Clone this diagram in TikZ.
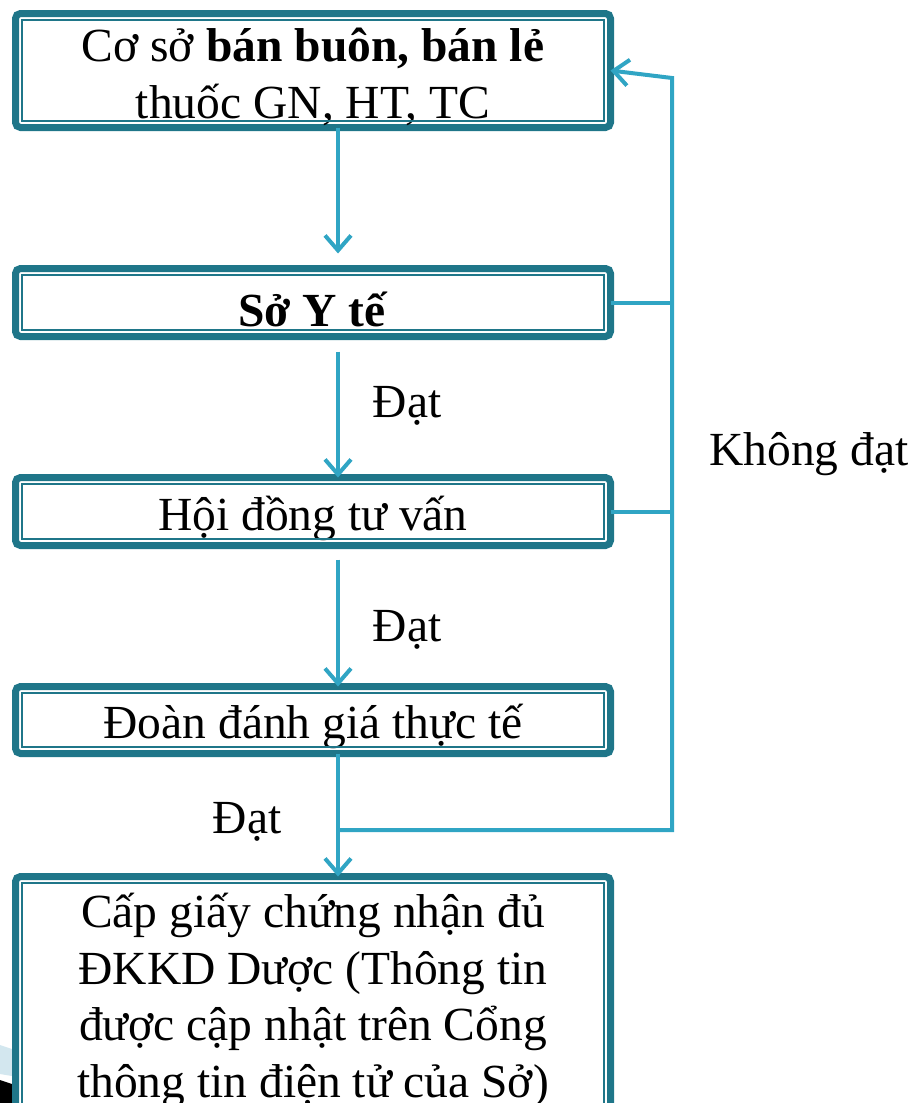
\documentclass[tikz,border=0pt]{standalone}
\usepackage{fontspec}
\setmainfont{Liberation Serif}
\usetikzlibrary{arrows.meta,calc}
\definecolor{boxc}{HTML}{1F7689}
\definecolor{linec}{HTML}{30A5C4}
\definecolor{decob}{HTML}{D3E7EF}
\begin{document}
\begin{tikzpicture}[x=1pt,y=-1pt,
  box/.style={draw=boxc, line width=7pt, rounded corners=5pt, outer sep=0pt, inner sep=0pt,
    minimum width=595pt},
  boxtext/.style={font=\fontsize{47.5}{56.5}\selectfont, align=center, inner sep=0pt, yshift=-6.5pt},
  innerline/.style={draw=boxc, line width=2pt},
  conn/.style={draw=linec, line width=4pt},
  arr/.style={conn, -{Straight Barb[length=15pt,width=26pt]}},
  lbl/.style={font=\fontsize{47.5}{56.5}\selectfont, inner sep=0pt, anchor=base}]
\useasboundingbox (0,0) rectangle (913,1103);
% corner decoration
\fill[decob] (0,1045) -- (12,1049) -- (12,1076) -- (0,1074) -- cycle;
\fill[black] (0,1080) -- (12,1084) -- (12,1103) -- (0,1103) -- cycle;
% boxes
\node[box, minimum height=114pt, label={[boxtext, name=t1]center:{Cơ sở \textbf{bán buôn, bán lẻ}\\thuốc GN, HT, TC}}] (b1) at (313,70.5) {};
\node[box, minimum height=68pt, label={[boxtext, name=t2]center:{\textbf{Sở Y tế}}}] (b2) at (313,302.5) {};
\node[box, minimum height=68pt, label={[boxtext, name=t3]center:{Hội đồng tư vấn}}] (b3) at (313,511.5) {};
\node[box, minimum height=67pt, label={[boxtext, name=t4]center:{Đoàn đánh giá thực tế}}] (b4) at (313,720) {};
\node[box, minimum height=235pt, label={[boxtext, name=t5]center:{Cấp giấy chứng nhận đủ\\ĐKKD Dược (Thông tin\\được cập nhật trên Cổng\\thông tin điện tử của Sở)}}] (b5) at (313,994) {};
\foreach \b in {b1,b2,b3,b4,b5}
  \draw[innerline] ($(\b.north west)+(6.5,6.5)$) rectangle ($(\b.south east)+(-6.5,-6.5)$);
% connectors
\coordinate (ax) at (338,0);
\coordinate (fb) at (672,830);
\coordinate (ft) at (672,78);
\draw[arr, shorten >=15pt] (b1.south -| ax) -- (b2.north -| ax);
\draw[arr, shorten <=15pt] (b2.south -| ax) -- (b3.north -| ax);
\draw[arr, shorten <=14pt] (b3.south -| ax) -- (b4.north -| ax);
\draw[arr] (b4.south -| ax) -- (b5.north -| ax);
\draw[arr] (ax |- fb) -- (fb) -- (ft) -- (b1.east);
\draw[conn] (b2.east) -- (b2.east -| fb);
\draw[conn] (b3.east) -- (b3.east -| fb);
% labels
\node[lbl] (d1) at (407,417) {Đạt};
\node[lbl] (d2) at (407,641) {Đạt};
\node[lbl] (d3) at (247,833) {Đạt};
\node[lbl] (kd) at (809,465) {Không đạt};
\end{tikzpicture}
\end{document}
